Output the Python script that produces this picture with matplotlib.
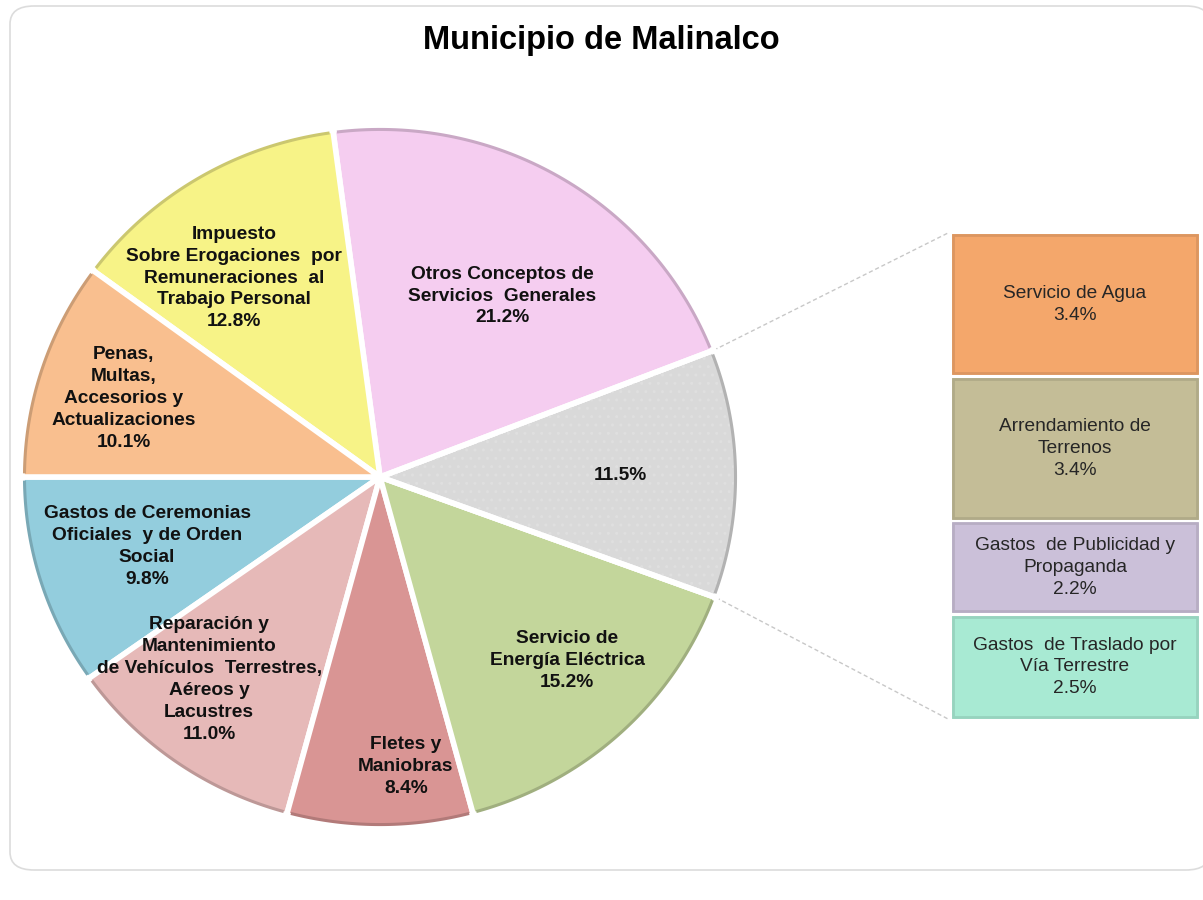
import numpy as np
import matplotlib

matplotlib.use("Agg")
import matplotlib.pyplot as plt
from matplotlib.colors import to_rgb
from matplotlib.patches import FancyBboxPatch, Wedge

plt.rcParams["font.family"] = ["Liberation Sans", "DejaVu Sans"]

# Pie slices, counter-clockwise starting at the left horizontal
PIE_LABELS = [
    "Gastos de Ceremonias\nOficiales  y de Orden\nSocial",
    "Reparación y\nMantenimiento\nde Vehículos  Terrestres,\nAéreos y\nLacustres",
    "Fletes y\nManiobras",
    "Servicio de\nEnergía Eléctrica",
    "",
    "Otros Conceptos de\nServicios  Generales",
    "Impuesto\nSobre Erogaciones  por\nRemuneraciones  al\nTrabajo Personal",
    "Penas,\nMultas,\nAccesorios y\nActualizaciones",
]
PIE_VALUES = [9.8, 11.0, 8.4, 15.2, 11.5, 21.2, 12.8, 10.1]
PIE_COLORS = ["#93CDDD", "#E6B9B8", "#D99594", "#C3D69B", "#D9D9D9",
              "#F5CDF0", "#F7F387", "#F9BF8F"]

# Breakdown of the grey 11.5% slice, top to bottom
BAR_LABELS = ["Servicio de Agua", "Arrendamiento de\nTerrenos",
              "Gastos  de Publicidad y\nPropaganda",
              "Gastos  de Traslado por\nVía Terrestre"]
BAR_VALUES = [3.4, 3.4, 2.2, 2.5]
BAR_COLORS = ["#F4A76B", "#C4BD97", "#CBC0D9", "#A8EAD3"]

# label placement: (angle in degrees, fraction of radius)
LABEL_POS = [(196.9, 0.68), (230.5, 0.75), (275, 0.83), (315, 0.74),
             (0.3, 0.67), (56.5, 0.62), (125.7, 0.70), (162.6, 0.75)]

H = 900
K = 358 / 350  # the original pie is slightly wider than tall


def py(y_px):
    return (H - y_px) * K


CX, CY, R = 380, py(477), 358
EXPLODE = [0.008, 0.008, 0.008, 0.008, 0.02, 0.008, 0.008, 0.008]
FS = 13.8
LS = 1.38


def darker(c, f=0.85):
    return tuple(v * f for v in to_rgb(c))


fig = plt.figure(figsize=(12.03, 9.0), dpi=100)
fig.patch.set_facecolor("white")
frame = FancyBboxPatch((10 / 1203, (H - 870) / H), 1200 / 1203, 864 / H,
                       boxstyle="round,pad=0,rounding_size=0.02",
                       transform=fig.transFigure, facecolor="white",
                       edgecolor="#dcdcdc", linewidth=1.2, zorder=-5)
fig.patches.append(frame)

ax = fig.add_axes([0, 0, 1, 1])
ax.patch.set_alpha(0)

wedges, _ = ax.pie(PIE_VALUES, colors=PIE_COLORS, startangle=180, counterclock=True,
                   center=(CX, CY), radius=R, explode=EXPLODE, frame=True,
                   wedgeprops=dict(edgecolor="white", linewidth=4))
for w in wedges:
    w.set_zorder(2)

# faint dotted texture on the grey slice, then its white border again on top
grey = wedges[4]
tex, _ = ax.pie([PIE_VALUES[4], 100 - PIE_VALUES[4]], startangle=grey.theta1,
                counterclock=True, center=grey.center, radius=R - 4, frame=True,
                colors=["none", "none"],
                wedgeprops=dict(edgecolor="#dfdfdf", linewidth=0, hatch=".."))
tex[1].set_visible(False)
tex[0].set_zorder(2.5)
ax.add_patch(Wedge(grey.center, R, grey.theta1, grey.theta2, fill=False,
                   edgecolor="white", linewidth=4, zorder=2.6))

# darker rim on each slice (slightly inset so the white gaps stay)
for w, c in zip(wedges, PIE_COLORS):
    ctr = w.center
    th = np.radians(np.linspace(w.theta1 + 0.6, w.theta2 - 0.6, 80))
    ax.plot(ctr[0] + (R - 2.5) * np.cos(th), ctr[1] + (R - 2.5) * np.sin(th),
            color=darker(c, 0.82), lw=2.2, zorder=3, solid_capstyle="butt")

for w, txt, val, (ang, frac) in zip(wedges, PIE_LABELS, PIE_VALUES, LABEL_POS):
    a = np.radians(ang)
    x = w.center[0] + frac * R * np.cos(a)
    y = w.center[1] + frac * R * np.sin(a)
    s = f"{txt}\n{val:.1f}%" if txt else f"{val:.1f}%"
    ax.text(x, y, s, ha="center", va="center", fontsize=FS, fontweight="bold",
            color="#111111", linespacing=LS, zorder=5)

# stacked bar for the breakdown
BX, BW = 1075, 250
B_TOP, B_BOT = py(232), py(720)
scale = (B_TOP - B_BOT) / sum(BAR_VALUES)
bottoms = B_TOP - np.cumsum(BAR_VALUES) * scale
heights = np.array(BAR_VALUES) * scale
bars = ax.bar([BX] * len(BAR_VALUES), heights, bottom=bottoms, width=BW,
              color=BAR_COLORS, edgecolor="white", linewidth=2.5, zorder=2)
for b, c in zip(bars, BAR_COLORS):
    x0, y0 = b.get_x() + 3, b.get_y() + 3
    ax.add_patch(plt.Rectangle((x0, y0), b.get_width() - 6, b.get_height() - 6,
                               fill=False, edgecolor=darker(c, 0.9), lw=2, zorder=3))
for b, txt, val in zip(bars, BAR_LABELS, BAR_VALUES):
    ax.text(b.get_x() + b.get_width() / 2, b.get_y() + b.get_height() / 2,
            f"{txt}\n{val:.1f}%", ha="center", va="center", fontsize=FS,
            color="#262626", linespacing=LS, zorder=5)

# connector lines from the grey slice to the bar
for th, yb in [(grey.theta2, B_TOP), (grey.theta1, B_BOT)]:
    a = np.radians(th)
    px = grey.center[0] + R * np.cos(a)
    pyy = grey.center[1] + R * np.sin(a)
    ax.plot([px, BX - BW / 2], [pyy, yb], color="#c8c8c8", lw=1, ls=(0, (3, 2)), zorder=1)

ax.set_xlim(0, 1203)
ax.set_ylim(0, H * K)
ax.set_aspect("auto")
ax.axis("off")

fig.text(0.5, 1 - 40 / H, "Municipio de Malinalco", ha="center", va="center",
         fontsize=23.5, fontweight="bold", color="black")

fig.savefig("out.png", dpi=100, facecolor="white")
